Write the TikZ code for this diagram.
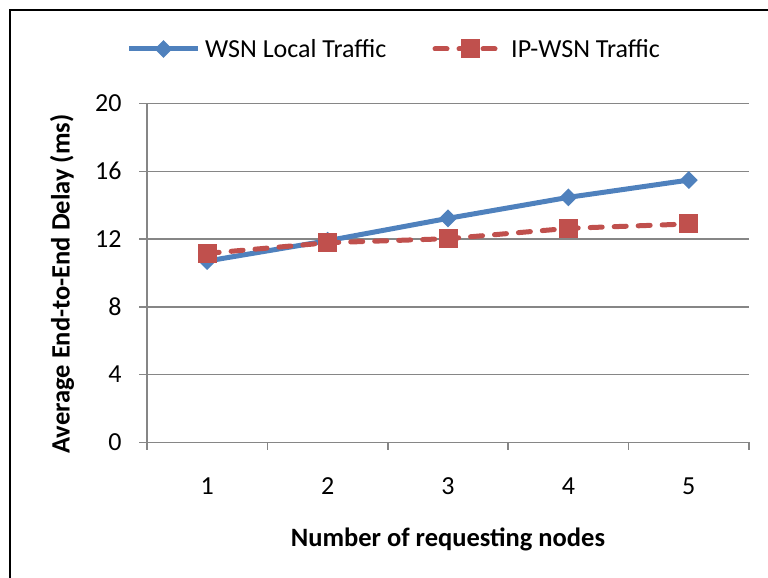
\documentclass[tikz,border=0pt]{standalone}
\usepackage{fontspec}
\setmainfont{Carlito}
\usetikzlibrary{shapes.geometric,calc}
\definecolor{wsnblue}{RGB}{79,129,189}
\definecolor{ipred}{RGB}{192,80,77}
\definecolor{gridgray}{RGB}{134,134,134}

\begin{document}
\begin{tikzpicture}[
            x=1pt, y=-1pt,
            gridline/.style={draw=gridgray, line width=1.5pt},
            ticklabel/.style={font=\fontsize{26}{30}\selectfont, inner sep=0pt},
            axistitle/.style={font=\fontsize{26.5}{30}\selectfont\bfseries, inner sep=0pt},
            legendtext/.style={font=\fontsize{26}{30}\selectfont, inner sep=0pt, anchor=west},
            wsnline/.style={draw=wsnblue, line width=5pt, line join=round},
            ipline/.style={draw=ipred, line width=5pt, dash pattern=on 12pt off 12pt, line cap=round},
            wsnmark/.style={diamond, fill=wsnblue, minimum width=18pt, minimum height=18pt, inner sep=0pt},
            ipmark/.style={rectangle, fill=ipred, draw=ipred, line width=1pt, minimum size=18pt, inner sep=0pt}
        ]
        \useasboundingbox (0,0) rectangle (768,578);
        \draw[line width=2pt] (10,10) rectangle (800,600);

        % Legend
        \coordinate (wsnkeyl) at (129,49);
        \coordinate (wsnkeyr) at (198,49);
        \draw[wsnline] (wsnkeyl) -- (wsnkeyr);
        \node[wsnmark] (wsnkeym) at ($(wsnkeyl)!0.5!(wsnkeyr)$) {};
        \node[legendtext] (wsnkeyt) at (205,49) {WSN Local Traffic};

        \coordinate (ipkeyl) at (435,49);
        \coordinate (ipkeyr) at (506,49);
        \draw[ipline] (ipkeyl) -- (ipkeyr);
        \node[ipmark] (ipkeym) at ($(ipkeyl)!0.5!(ipkeyr)$) {};
        \node[legendtext] (ipkeyt) at (511,49) {IP-WSN Traffic};

        % Plot area
        \begin{scope}[shift={(147,442.3)}, x=120.4pt, y=16.94pt]
            \foreach \v in {4,8,...,20}
                \draw[gridline] (-0.066,\v) -- (5,\v);
            \draw[gridline] (0,0) -- (0,20);
            \draw[gridline] (-0.066,0) -- (5,0);
            \foreach \i in {0,...,5}
                \draw[gridline] (\i,0) -- (\i,-0.47);

            \foreach \v in {0,4,...,20}
                \node[ticklabel, anchor=east] (ylab\v) at (-0.21,\v) {\v};
            \foreach \i in {1,...,5}
                \node[ticklabel] (xlab\i) at (\i-0.5,-2.58) {\i};

            % Data
            \foreach \v [count=\i] in {10.7,11.9,13.22,14.46,15.48}
                \coordinate (wsn\i) at (\i-0.5,\v);
            \foreach \v [count=\i] in {11.15,11.78,12.02,12.63,12.89}
                \coordinate (ip\i) at (\i-0.5,\v);

            \draw[wsnline] (wsn1) -- (wsn2) -- (wsn3) -- (wsn4) -- (wsn5);
            \foreach \i in {1,...,5}
                \node[wsnmark] (wsnm\i) at (wsn\i) {};
            \draw[ipline] (ip1) -- (ip2) -- (ip3) -- (ip4) -- (ip5);
            \foreach \i in {1,...,5}
                \node[ipmark] (ipm\i) at (ip\i) {};
        \end{scope}

        % Axis titles
        \node[axistitle] (xtitle) at (448,539) {Number of requesting nodes};
        \node[axistitle, rotate=90] (ytitle) at (62,284) {Average End-to-End Delay (ms)};
    \end{tikzpicture}
\end{document}
